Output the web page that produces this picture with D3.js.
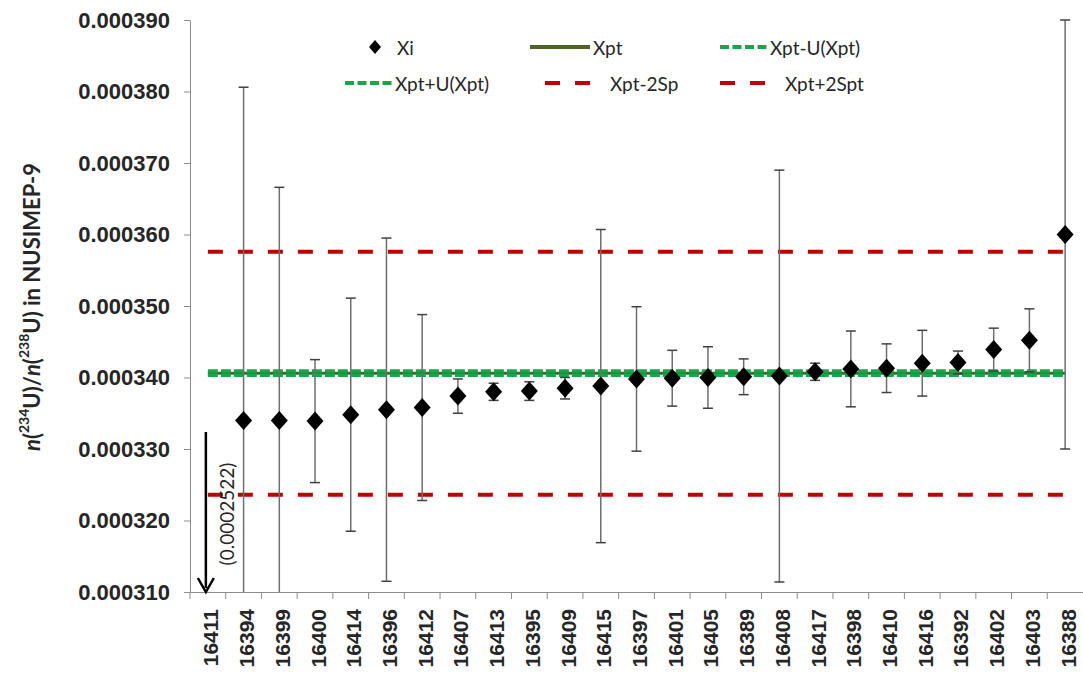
<!DOCTYPE html>
<html>
<head>
<meta charset="utf-8">
<script src="https://cdn.jsdelivr.net/npm/d3@7"></script>
<style>
  body { margin: 0; background: #fff; }
  svg { display: block; font-family: Lato, "Open Sans", sans-serif; }
</style>
</head>
<body>
<div class="svg-container"></div>
<script>
// sample ids along the x axis
var categories = ["16411","16394","16399","16400","16414","16396","16412","16407","16413","16395","16409","16415","16397","16401","16405","16389","16408","16417","16398","16410","16416","16392","16402","16403","16388"];
// Xi values and their expanded uncertainties
var xiValues = [0.0002522, 0.0003340, 0.0003340, 0.0003339, 0.0003348, 0.0003355, 0.0003358, 0.0003374, 0.0003380, 0.0003381, 0.0003385, 0.0003388, 0.0003398, 0.0003399, 0.0003400, 0.0003401, 0.0003402, 0.0003408, 0.0003412, 0.0003413, 0.0003420, 0.0003421, 0.0003439, 0.0003452, 0.0003600];
var xiUnc = [0, 0.0000466, 0.0000326, 0.0000086, 0.0000163, 0.0000240, 0.0000130, 0.0000024, 0.0000012, 0.0000013, 0.0000015, 0.0000219, 0.0000101, 0.0000039, 0.0000043, 0.0000025, 0.0000288, 0.0000012, 0.0000053, 0.0000034, 0.0000046, 0.0000016, 0.0000030, 0.0000044, 0.0000300];
// reference values
var xpt = 0.0003406;
var uXpt = 0.0000003;
var twoSp = 0.0000170;
var yTicks = [0.00031, 0.00032, 0.00033, 0.00034, 0.00035, 0.00036, 0.00037, 0.00038, 0.00039];
var offscaleLabel = "(0.0002522)";

var width = 1083, height = 679;
var margin = {top: 20, right: 0, bottom: 87, left: 190};

var svg = d3.select(".svg-container").append("svg")
  .attr("width", width).attr("height", height);

var x = d3.scaleBand().domain(categories)
  .range([margin.left, width - margin.right]).padding(0);
var y = d3.scaleLinear().domain([0.00031, 0.00039])
  .range([height - margin.bottom, margin.top]);
var cx = function(c){ return x(c) + x.bandwidth()/2; };

svg.append("clipPath").attr("id", "plotclip").append("rect")
  .attr("x", margin.left).attr("y", margin.top - 1)
  .attr("width", width - margin.left).attr("height", y(0.00031) - margin.top + 1);

// y axis
var yAxis = svg.append("g").attr("transform", "translate(" + margin.left + ",0)")
  .call(d3.axisLeft(y).tickValues(yTicks).tickFormat(d3.format(".6f")).tickSize(6).tickPadding(14));
yAxis.select(".domain").attr("stroke", "#8c8c8c");
yAxis.selectAll(".tick line").attr("stroke", "#8c8c8c");
yAxis.selectAll(".tick text").attr("font-size", "22px").attr("font-weight", "bold").attr("fill", "#262626");

// x axis
var xAxis = svg.append("g").attr("transform", "translate(0," + y(0.00031) + ")")
  .call(d3.axisBottom(x).tickSize(0).tickPadding(0));
xAxis.select(".domain").attr("stroke", "#8c8c8c");
xAxis.selectAll(".tick text")
  .attr("font-size", "21px").attr("font-weight", "bold").attr("fill", "#262626")
  .attr("text-anchor", "end").attr("dy", null)
  .attr("transform", "translate(3,17) rotate(-90)")
  .attr("dominant-baseline", "central");
// category boundary ticks
xAxis.selectAll("line.bound").data(categories).enter().append("line")
  .attr("class", "bound")
  .attr("x1", function(d){ return x(d); }).attr("x2", function(d){ return x(d); })
  .attr("y1", 0).attr("y2", 7).attr("stroke", "#8c8c8c");

var plot = svg.append("g").attr("clip-path", "url(#plotclip)");
var x0 = cx(categories[0]), x1 = cx(categories[categories.length - 1]);

// reference lines
var refLines = [
  {v: xpt - twoSp, color: "#c00000", w: 4, dash: "15,15"},
  {v: xpt + twoSp, color: "#c00000", w: 4, dash: "15,15"},
  {v: xpt, color: "#4f6228", w: 3, dash: null},
  {v: xpt - uXpt, color: "#14a84a", w: 3.5, dash: "10,3"},
  {v: xpt + uXpt, color: "#14a84a", w: 3.5, dash: "10,3"}
];
plot.selectAll("line.ref").data(refLines).enter().append("line")
  .attr("class", "ref")
  .attr("x1", x0).attr("x2", x1)
  .attr("y1", function(d){ return y(d.v); }).attr("y2", function(d){ return y(d.v); })
  .attr("stroke", function(d){ return d.color; })
  .attr("stroke-width", function(d){ return d.w; })
  .attr("stroke-dasharray", function(d){ return d.dash; });

// error bars
var pts = categories.map(function(c, i){ return {c: c, v: xiValues[i], u: xiUnc[i]}; });
var eb = plot.selectAll("g.eb").data(pts.filter(function(d){ return d.u > 0; })).enter().append("g");
eb.append("line")
  .attr("x1", function(d){ return cx(d.c); }).attr("x2", function(d){ return cx(d.c); })
  .attr("y1", function(d){ return y(d.v - d.u); }).attr("y2", function(d){ return y(d.v + d.u); })
  .attr("stroke", "#6e6e6e").attr("stroke-width", 1.5);
[-1, 1].forEach(function(s){
  eb.append("line")
    .attr("x1", function(d){ return cx(d.c) - 5; }).attr("x2", function(d){ return cx(d.c) + 5; })
    .attr("y1", function(d){ return y(d.v + s*d.u); }).attr("y2", function(d){ return y(d.v + s*d.u); })
    .attr("stroke", "#404040").attr("stroke-width", 1.5);
});

// Xi markers
var diamond = "M0,-9.5L8.5,0L0,9.5L-8.5,0Z";
plot.selectAll("path.xi").data(pts).enter().append("path")
  .attr("class", "xi")
  .attr("transform", function(d){ return "translate(" + cx(d.c) + "," + y(d.v) + ")"; })
  .attr("d", diamond).attr("fill", "#000");

// off-scale arrow for first sample
var ax = cx(categories[0]) - 2;
var ayTop = y(0.000330) - 17, ayBot = y(0.00031);
svg.append("line").attr("x1", ax).attr("x2", ax).attr("y1", ayTop).attr("y2", ayBot - 4)
  .attr("stroke", "#000").attr("stroke-width", 2.5);
svg.append("path")
  .attr("d", "M" + (ax - 8) + "," + (ayBot - 14) + "L" + ax + "," + ayBot + "L" + (ax + 8) + "," + (ayBot - 14))
  .attr("fill", "none").attr("stroke", "#000").attr("stroke-width", 2.5);
svg.append("text")
  .attr("transform", "translate(" + (ax + 21) + "," + ((ayTop + ayBot)/2 + 2) + ") rotate(-90)")
  .attr("text-anchor", "middle").attr("dominant-baseline", "central")
  .attr("font-size", "19px").attr("fill", "#262626").text(offscaleLabel);

// y axis title
var title = svg.append("text")
  .attr("transform", "translate(31,307) rotate(-90)")
  .attr("text-anchor", "middle").attr("dominant-baseline", "central")
  .attr("font-size", "22px").attr("font-weight", "bold").attr("fill", "#262626");
title.append("tspan").attr("font-style", "italic").text("n");
title.append("tspan").text("(");
title.append("tspan").attr("font-size", "14px").attr("dy", "-8").text("234");
title.append("tspan").attr("dy", "8").text("U)/");
title.append("tspan").attr("font-style", "italic").text("n");
title.append("tspan").text("(");
title.append("tspan").attr("font-size", "14px").attr("dy", "-8").text("238");
title.append("tspan").attr("dy", "8").text("U) in NUSIMEP-9");

// legend
var legendItems = [
  {label: "Xi", type: "marker", lx: 375, ly: 47, tx: 397},
  {label: "Xpt", type: "line", color: "#4f6228", dash: null, lx: 530, lw: 60, ly: 47, tx: 593},
  {label: "Xpt-U(Xpt)", type: "line", color: "#14a84a", dash: "9,3.5", lx: 720, lw: 48, ly: 47, tx: 770},
  {label: "Xpt+U(Xpt)", type: "line", color: "#14a84a", dash: "9,3.5", lx: 345, lw: 48, ly: 83, tx: 395},
  {label: "Xpt-2Sp", type: "line", color: "#c00000", dash: "15,15", lx: 545, lw: 45, ly: 83, tx: 610},
  {label: "Xpt+2Spt", type: "line", color: "#c00000", dash: "15,15", lx: 720, lw: 45, ly: 83, tx: 785}
];
var lg = svg.append("g");
legendItems.forEach(function(d){
  if (d.type === "marker") {
    lg.append("path").attr("transform", "translate(" + d.lx + "," + d.ly + ")")
      .attr("d", "M0,-7L6,0L0,7L-6,0Z").attr("fill", "#000");
  } else {
    lg.append("line").attr("x1", d.lx).attr("x2", d.lx + d.lw)
      .attr("y1", d.ly).attr("y2", d.ly)
      .attr("stroke", d.color).attr("stroke-width", 4)
      .attr("stroke-dasharray", d.dash);
  }
  lg.append("text").attr("x", d.tx).attr("y", d.ly)
    .attr("dominant-baseline", "central")
    .attr("font-size", "19px").attr("fill", "#262626").text(d.label);
});
</script>
</body>
</html>
